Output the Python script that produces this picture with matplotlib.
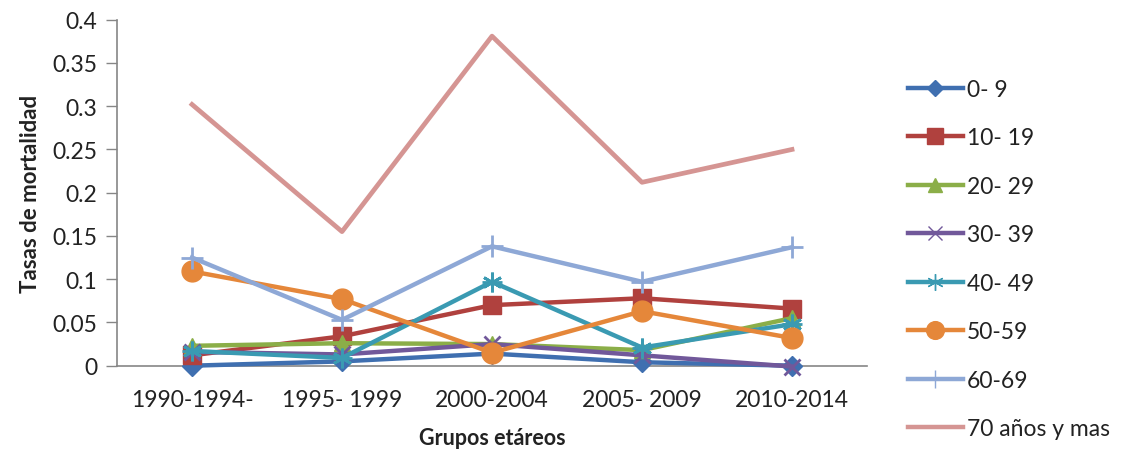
import matplotlib
matplotlib.use("Agg")
import matplotlib.pyplot as plt
from matplotlib.lines import Line2D

plt.rcParams['font.family'] = ['Lato', 'DejaVu Sans']

categories = ["1990-1994-", "1995- 1999", "2000-2004", "2005- 2009", "2010-2014"]
series_names = ["0- 9", "10- 19", "20- 29", "30- 39", "40- 49", "50-59", "60-69", "70 años y mas"]
s0_9 = [0.000, 0.005, 0.014, 0.004, 0.000]
s10_19 = [0.012, 0.034, 0.070, 0.078, 0.066]
s20_29 = [0.023, 0.026, 0.025, 0.018, 0.055]
s30_39 = [0.016, 0.013, 0.025, 0.012, -0.001]
s40_49 = [0.017, 0.009, 0.097, 0.021, 0.048]
s50_59 = [0.109, 0.077, 0.015, 0.063, 0.032]
s60_69 = [0.125, 0.053, 0.138, 0.097, 0.137]
s70 = [0.302, 0.155, 0.381, 0.212, 0.250]
values = [s0_9, s10_19, s20_29, s30_39, s40_49, s50_59, s60_69, s70]

colors = ["#3F6FB0", "#B0413E", "#8BAE48", "#71589A", "#3A9AB2", "#E5873A", "#8EA8D6", "#D59593"]
markers = ["D", "s", "^", "x", "*", "o", "+", None]
msizes = [10, 13, 12, 12, 14, 15, 16, 0]

fig = plt.figure(figsize=(11.22, 4.56), dpi=100)
ax = fig.add_axes([117/1122, 1-366.7/456, (867-117)/1122, (366.7-20.7)/456])

x = list(range(len(categories)))
handles = []
for name, vals, c, m, ms in zip(series_names, values, colors, markers, msizes):
    if m in ("x", "*", "+"):
        mk = "x" if m == "x" else ("+" if m == "+" else (6, 2, 0))
        ln, = ax.plot(x, vals, color=c, lw=3.2, marker=mk, ms=ms, mew=2.0, clip_on=False, zorder=3)
        if m == "*":
            ax.plot(x, vals, color=c, lw=0, marker="+", ms=ms, mew=2.0, clip_on=False, zorder=3)
    elif m is None:
        ln, = ax.plot(x, vals, color=c, lw=3.4, clip_on=False, zorder=2)
    else:
        ln, = ax.plot(x, vals, color=c, lw=3.2, marker=m, ms=ms, mec=c, mfc=c, clip_on=False, zorder=3)
    lm = m if m != "*" else (6, 2, 0)
    handles.append(Line2D([0], [0], color=c, lw=3.2, marker=lm, ms=(ms*0.85 if m else 0), mec=c, mfc=c,
                          mew=1.0))

ax.set_xlim(-0.5, 4.5)
ax.set_ylim(0, 0.4)
ax.set_yticks([0, 0.05, 0.1, 0.15, 0.2, 0.25, 0.3, 0.35, 0.4])
ax.set_yticklabels(["0", "0.05", "0.1", "0.15", "0.2", "0.25", "0.3", "0.35", "0.4"])
ax.set_xticks(x)
ax.set_xticklabels(categories)
ax.tick_params(axis='y', length=8, width=1, color="#868686", labelsize=16.5, pad=6, labelcolor="#222222")
ax.tick_params(axis='x', length=0, labelsize=16.5, pad=17, labelcolor="#222222")

for sp in ["top", "right"]:
    ax.spines[sp].set_visible(False)
for sp in ["left", "bottom"]:
    ax.spines[sp].set_color("#868686")
    ax.spines[sp].set_linewidth(1.2)

ax.set_ylabel("Tasas de mortalidad", fontsize=16, fontweight="bold", labelpad=8, color="#222222")
ax.set_xlabel("Grupos etáreos", fontsize=15.5, fontweight="bold", labelpad=12, color="#222222")

leg = fig.legend(handles, series_names, loc="upper left", bbox_to_anchor=(887/1122, 1-59/456),
                 frameon=False, fontsize=16.5, handlelength=2.4, labelspacing=1.2, handletextpad=0.2)
for t in leg.get_texts():
    t.set_color("#222222")

fig.savefig("out.png", dpi=100)
